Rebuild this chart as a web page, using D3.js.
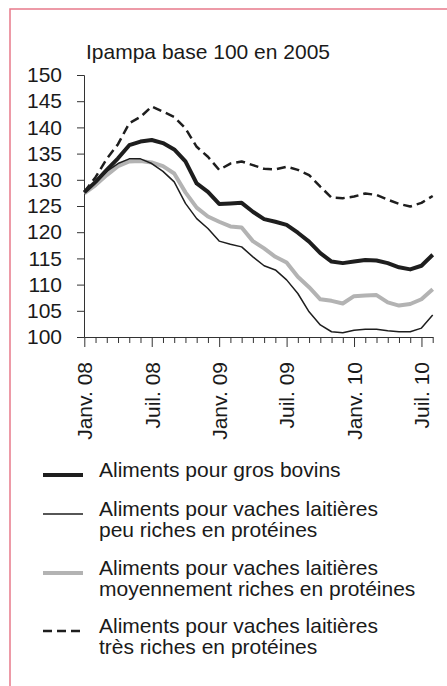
<!DOCTYPE html>
<html>
<head>
<meta charset="utf-8">
<script src="https://cdn.jsdelivr.net/npm/d3@7"></script>
<style>
  body { margin: 0; background: #fff; }
  svg { display: block; font-family: "Liberation Sans", Arial, sans-serif; }
</style>
</head>
<body>
<div id="chart"></div>
<script>
// months from Janv. 08 to Août 10
var mois = [
  "Janv. 08", "Févr. 08", "Mars 08", "Avr. 08", "Mai 08", "Juin 08",
  "Juil. 08", "Août 08", "Sept. 08", "Oct. 08", "Nov. 08", "Déc. 08",
  "Janv. 09", "Févr. 09", "Mars 09", "Avr. 09", "Mai 09", "Juin 09",
  "Juil. 09", "Août 09", "Sept. 09", "Oct. 09", "Nov. 09", "Déc. 09",
  "Janv. 10", "Févr. 10", "Mars 10", "Avr. 10", "Mai 10", "Juin 10",
  "Juil. 10", "Août 10"
];
var tickLabels = ["Janv. 08", "Juil. 08", "Janv. 09", "Juil. 09", "Janv. 10", "Juil. 10"];
var yTicks = [100, 105, 110, 115, 120, 125, 130, 135, 140, 145, 150];

var grosBovins = [127.6, 129.6, 131.9, 134.1, 136.6, 137.3, 137.6, 137.0, 135.8, 133.5, 129.3, 127.7,
  125.4, 125.5, 125.6, 123.9, 122.5, 122.0, 121.4, 119.9, 118.2, 116.0, 114.4, 114.1,
  114.4, 114.7, 114.6, 114.1, 113.3, 112.9, 113.6, 115.7];
var peuRiches = [127.7, 129.6, 131.6, 133.1, 134.0, 134.0, 133.1, 131.6, 129.6, 125.5, 122.6, 120.7,
  118.3, 117.7, 117.2, 115.3, 113.6, 112.8, 110.9, 108.3, 104.8, 102.3, 101.0, 100.8,
  101.3, 101.5, 101.5, 101.2, 101.0, 101.0, 101.7, 104.2];
var moyRiches = [127.4, 129.0, 130.9, 132.6, 133.5, 133.6, 133.3, 132.6, 131.2, 127.6, 124.7, 123.0,
  122.0, 121.1, 120.9, 118.3, 116.9, 115.3, 114.2, 111.5, 109.5, 107.2, 106.9, 106.4,
  107.8, 107.9, 108.0, 106.6, 106.0, 106.3, 107.2, 109.1];
var tresRiches = [127.7, 130.5, 134.0, 136.8, 140.8, 142.0, 144.0, 143.0, 142.0, 139.8, 136.3, 134.4,
  131.9, 133.1, 133.5, 132.8, 132.1, 132.0, 132.5, 131.9, 130.9, 128.7, 126.6, 126.5,
  126.8, 127.4, 127.1, 126.2, 125.4, 124.9, 125.6, 126.9];

var series = [
  { name: ["Aliments pour gros bovins"], values: grosBovins, color: "#1e1e1e", width: 4, dash: null },
  { name: ["Aliments pour vaches laitières", "peu riches en protéines"], values: peuRiches, color: "#1e1e1e", width: 1.5, dash: null },
  { name: ["Aliments pour vaches laitières", "moyennement riches en protéines"], values: moyRiches, color: "#b3b3b3", width: 4, dash: null },
  { name: ["Aliments pour vaches laitières", "très riches en protéines"], values: tresRiches, color: "#1e1e1e", width: 2.5, dash: "9,5" }
];

var width = 447, height = 686;
var fontSize = 21;

var svg = d3.select("#chart").append("svg")
  .attr("width", width)
  .attr("height", height);

// pink frame, cut by the window on the right and bottom
svg.append("rect")
  .attr("x", 10).attr("y", 9)
  .attr("width", 460).attr("height", 700)
  .attr("fill", "none")
  .attr("stroke", "#e8798b")
  .attr("stroke-width", 1.5);

var x = d3.scalePoint().domain(mois).range([84.3, 432.7]);
var y = d3.scaleLinear().domain([100, 150]).range([337, 75]);

svg.append("text")
  .attr("x", 86).attr("y", 59)
  .attr("font-size", fontSize)
  .attr("fill", "#1a1a1a")
  .text("Ipampa base 100 en 2005");

// y axis
var yAxis = svg.append("g")
  .attr("transform", "translate(84,0)")
  .call(d3.axisLeft(y).tickValues(yTicks).tickSize(7).tickPadding(15));
yAxis.selectAll("text")
  .attr("font-size", fontSize)
  .attr("font-family", "Liberation Sans, Arial, sans-serif")
  .attr("fill", "#1a1a1a");
yAxis.selectAll("line, path").attr("stroke", "#333");

// x axis
var xAxis = svg.append("g")
  .attr("transform", "translate(0,337)")
  .call(d3.axisBottom(x).tickSize(6).tickSizeOuter(0)
    .tickFormat(function(d) { return tickLabels.indexOf(d) >= 0 ? d : ""; }));
xAxis.selectAll("line, path").attr("stroke", "#333");
xAxis.selectAll(".tick line")
  .attr("y2", function(d) { return tickLabels.indexOf(d) >= 0 ? 10 : 6; });
xAxis.selectAll("text")
  .attr("font-size", fontSize)
  .attr("font-family", "Liberation Sans, Arial, sans-serif")
  .attr("fill", "#1a1a1a")
  .attr("transform", "rotate(-90)")
  .attr("text-anchor", "end")
  .attr("x", -25)
  .attr("y", 0)
  .attr("dy", "0.35em");

var line = d3.line()
  .x(function(d, i) { return x(mois[i]); })
  .y(function(d) { return y(d); });

// draw thin line last so it stays visible over the grey
var order = [2, 0, 3, 1];
order.forEach(function(k) {
  var s = series[k];
  svg.append("path")
    .datum(s.values)
    .attr("d", line)
    .attr("fill", "none")
    .attr("stroke", s.color)
    .attr("stroke-width", s.width)
    .attr("stroke-dasharray", s.dash)
    .attr("stroke-linejoin", "round");
});

// legend
var legendY = [475, 514, 573, 631];
series.forEach(function(s, k) {
  var g = svg.append("g").attr("transform", "translate(0," + legendY[k] + ")");
  g.append("line")
    .attr("x1", 43).attr("x2", 83)
    .attr("stroke", s.color)
    .attr("stroke-width", s.width)
    .attr("stroke-dasharray", s.dash);
  s.name.forEach(function(t, j) {
    g.append("text")
      .attr("x", 99)
      .attr("y", 2 + j * 20.5)
      .attr("font-size", fontSize)
      .attr("fill", "#1a1a1a")
      .text(t);
  });
});
</script>
</body>
</html>
